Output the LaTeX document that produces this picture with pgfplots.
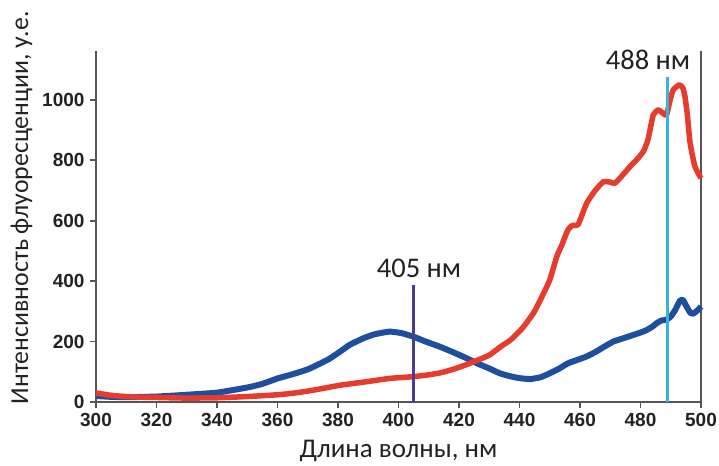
\documentclass[border=0pt]{standalone}
\usepackage{fontspec}
\setmainfont{Carlito}
\newfontfamily\tickfont{Liberation Sans}
\usepackage{pgfplots}
\pgfplotsset{compat=1.18}
\usetikzlibrary{calc}
\definecolor{axisgray}{HTML}{555555}
\definecolor{redc}{HTML}{E63B2E}
\definecolor{bluec}{HTML}{1F4E9E}
\definecolor{purplec}{HTML}{4A3D8F}
\definecolor{cyanc}{HTML}{3AB2DA}
\definecolor{txt}{HTML}{222222}
\begin{document}
\begin{tikzpicture}
\begin{axis}[
  scale only axis, width=605bp, height=351bp,
  xmin=300, xmax=500, ymin=0, ymax=1162,
  axis x line=bottom, axis y line=left,
  axis line style={-, draw=axisgray, line width=2bp},
  xtick={300,320,...,500}, ytick={0,200,...,1000},
  tick align=outside, major tick length=6bp,
  tick style={draw=axisgray, line width=1.8bp},
  ticklabel style={font=\tickfont\bfseries\fontsize{19bp}{21bp}\selectfont, text=txt},
  xticklabel style={yshift=-2bp},
  yticklabel style={xshift=-2bp},
  /pgf/number format/assume math mode=true,
  /pgf/number format/1000 sep={},
  xlabel={Длина волны, нм},
  ylabel={Интенсивность флуоресценции, у.е.},
  label style={text=txt},
  xlabel style={font=\fontsize{27bp}{30bp}\selectfont, at={(rel axis cs:0.5,-0.14)}, anchor=center},
  ylabel style={font=\fontsize{25.8bp}{30bp}\selectfont, at={(rel axis cs:-0.123,0.553)}, anchor=center},
  clip=false,
]
\coordinate (O) at (rel axis cs:0,0);
\draw[axisgray, line width=2bp] (rel axis cs:1,0) -- (rel axis cs:1,1);
% blue curve
\addplot[bluec, line width=6bp, line join=round, smooth, tension=0.3] coordinates {
(300,20) (305,17) (310,16) (320,18) (330,24) (340,31) (350,48) (355,60) (360,78) (365,92)
(370,108) (373,122) (377,142) (380.7,167) (384,190) (388.4,211) (392,224) (397,233) (401,228)
(405,216) (409,200) (413.7,183) (418,165) (422.5,145) (426,128) (430,111) (433.5,95) (437,85)
(440,79) (443.5,76) (447,82) (450,95) (453,110) (456,128) (459,139) (462,150) (465,165)
(468,183) (471,200) (474,210) (477,220) (480,230) (482,238) (484,250) (485.5,262) (487,270)
(488.5,272) (490,283) (491.5,305) (493,335) (494,338) (495,320) (496.5,295) (497.5,293)
(499,305) (500,316)};
% red curve
\addplot[redc, line width=5.5bp, line join=round, smooth, tension=0.3] coordinates {
(300,30) (303,25) (306,21) (310,18) (315,16) (320,15) (330,13) (340,14) (350,18) (360,24)
(365,29) (370,36) (375,45) (381,56) (390,68) (397,78) (405,84) (410,90) (414,97) (418,108)
(422,122) (426,138) (430,155) (434,185) (437,205) (441,245) (444.6,294) (447,340) (450,404)
(452.3,481) (454,520) (456,570) (457.5,585) (459.4,588) (462.2,658) (465,700) (467.7,729)
(470,728) (471.5,724) (474,750) (476.5,779) (479,805) (481,830) (482.5,870) (484.2,950)
(485.9,967) (487.5,955) (488.6,950) (489.8,1000) (490.8,1033) (492.8,1050) (494,1040)
(494.7,1011) (495.5,950) (496.4,857) (498,779) (500,741)};
% excitation lines
\addplot[purplec, line width=2.5bp] coordinates {(405,0) (405,387)};
\addplot[cyanc, line width=2.5bp] coordinates {(489,0) (489,1076)};
\node[font=\fontsize{28.5bp}{30bp}\selectfont, text=txt] at (axis cs:406.8,444) {405 нм};
\node[font=\fontsize{28.5bp}{30bp}\selectfont, text=txt] at (axis cs:482.5,1132) {488 нм};
\end{axis}
\pgfresetboundingbox
\path[use as bounding box] ($(O)+(-96bp,-64bp)$) rectangle ($(O)+(623bp,402bp)$);
\end{tikzpicture}
\end{document}
